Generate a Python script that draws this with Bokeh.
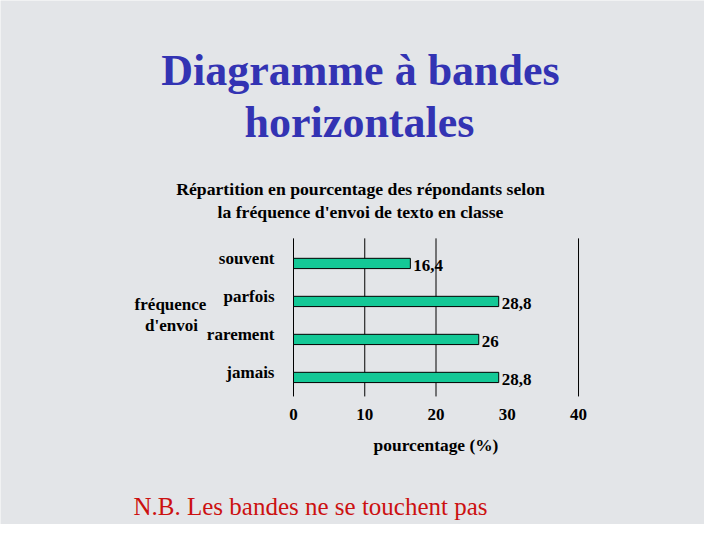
from bokeh.plotting import figure
from bokeh.models import Range1d, FixedTicker, Label, ColumnDataSource, LinearAxis
from bokeh.core.properties import value
from bokeh.embed import file_html
from bokeh.resources import INLINE

# ---- data ----
categories = ["jamais", "rarement", "parfois", "souvent"]
percentages = [28.8, 26.0, 28.8, 16.4]
value_labels = ["28,8", "26", "28,8", "16,4"]
x_ticks = [0, 10, 20, 30, 40]
grid_ticks = [0, 10, 20, 40]

title_lines = ["Diagramme à bandes", "horizontales"]
subtitle_lines = ["Répartition en pourcentage des répondants selon",
                  "la fréquence d'envoi de texto en classe"]
y_title_lines = ["fréquence", "d'envoi"]
x_title = "pourcentage (%)"
note = "N.B. Les bandes ne se touchent pas"

W, H = 704, 524
SERIF = "Liberation Serif"
BG = "#e3e5e8"

# category slots 1..4 (bottom to top)
pos = [i + 1 for i in range(len(categories))]

p = figure(width=W, height=H, output_backend="svg", toolbar_location=None,
           x_range=Range1d(-41.12, 57.68), y_range=Range1d(-2.87, 10.92),
           x_axis_location=None, y_axis_location=None, min_border=0)
p.background_fill_color = BG
p.border_fill_color = BG
p.outline_line_color = None
p.grid.visible = False

# vertical grid lines limited to the chart area
p.segment(x0=grid_ticks, x1=grid_ticks, y0=[0.5] * len(grid_ticks),
          y1=[4.66] * len(grid_ticks), line_color="black", line_width=1)

src = ColumnDataSource(dict(pos=pos, val=percentages, lbl=value_labels))
p.hbar(y="pos", right="val", left=0, height=0.27, source=src,
       fill_color="#14c896", line_color="black", line_width=1)
p.text(x="val", y="pos", text="lbl", source=src, x_offset=3, y_offset=2,
       text_baseline="middle", text_align="left",
       text_font=value(SERIF), text_font_style="bold", text_font_size="17px",
       text_color="black")

# x axis
xa = LinearAxis(fixed_location=0.5, bounds=(0, 40),
                ticker=FixedTicker(ticks=x_ticks))
xa.axis_line_color = None
xa.major_tick_line_color = None
xa.minor_tick_line_color = None
xa.major_label_standoff = 7
xa.major_label_text_font = SERIF
xa.major_label_text_font_style = "bold"
xa.major_label_text_font_size = "17px"
xa.major_label_text_color = "black"
xa.axis_label = x_title
xa.axis_label_standoff = 11
xa.axis_label_text_font = SERIF
xa.axis_label_text_font_style = "bold"
xa.axis_label_text_font_size = "17.4px"
xa.axis_label_text_color = "black"
p.add_layout(xa, "below")

# y axis (category names), labels sit slightly above each bar
label_ticks = [v + 0.13 for v in pos]
ya = LinearAxis(fixed_location=0, ticker=FixedTicker(ticks=label_ticks),
                major_label_overrides={t: c for t, c in zip(label_ticks, categories)})
ya.axis_line_color = None
ya.major_tick_line_color = None
ya.minor_tick_line_color = None
ya.major_label_standoff = 13
ya.major_label_text_font = SERIF
ya.major_label_text_font_style = "bold"
ya.major_label_text_font_size = "17px"
ya.major_label_text_color = "black"
p.add_layout(ya, "left")

def add_label(text, x, y, size, color="black", style="bold", align="center"):
    # x, y are picture coordinates measured from the top-left corner
    p.add_layout(Label(x=x, y=H - y, x_units="screen", y_units="screen",
                       text=text, text_align=align, text_baseline="middle",
                       text_font=SERIF, text_font_style=style,
                       text_font_size=size, text_color=color))

add_label(title_lines[0], 360, 70, "44px", color="#3333b3")
add_label(title_lines[1], 359, 122, "44px", color="#3333b3")
add_label(subtitle_lines[0], 360, 188, "17.7px")
add_label(subtitle_lines[1], 360, 211, "17.7px")
add_label(y_title_lines[0], 170, 304, "17px")
add_label(y_title_lines[1], 171, 325, "17px")
add_label(note, 133, 506, "25px", color="#cc1111", style="normal", align="left")

open("out.html", "w").write(file_html(p, INLINE))
